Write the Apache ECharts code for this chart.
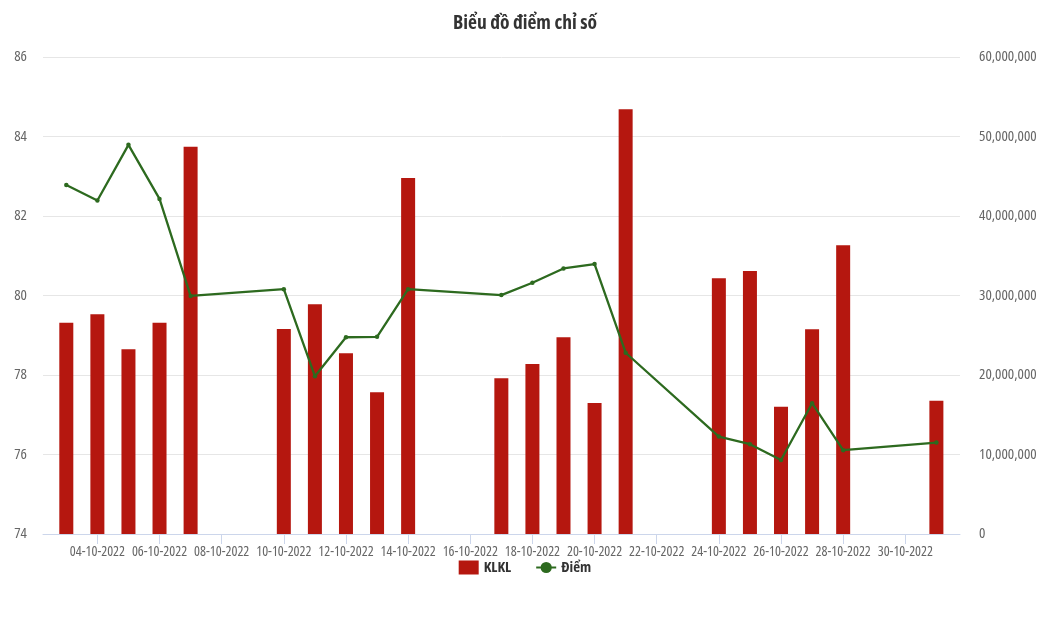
<!DOCTYPE html>
<html>
<head>
<meta charset="utf-8">
<script src="https://cdn.jsdelivr.net/npm/echarts@6/dist/echarts.min.js"></script>
<style>
html,body{margin:0;padding:0;background:#fff;}
#chart{width:1050px;height:630px;}
</style>
</head>
<body>
<div id="chart"></div>
<script>
const dates = ['03-10-2022','04-10-2022','05-10-2022','06-10-2022','07-10-2022',
  '10-10-2022','11-10-2022','12-10-2022','13-10-2022','14-10-2022',
  '17-10-2022','18-10-2022','19-10-2022','20-10-2022','21-10-2022',
  '24-10-2022','25-10-2022','26-10-2022','27-10-2022','28-10-2022','31-10-2022'];
const klkl = [26580000,27630000,23230000,26580000,48720000,
  25790000,28890000,22730000,17820000,44780000,
  19580000,21380000,24740000,16480000,53420000,
  32160000,33080000,16010000,25750000,36310000,16770000];
const diem = [82.78,82.39,83.79,82.43,79.99,
  80.16,77.97,78.95,78.96,80.16,
  80.01,80.32,80.68,80.79,78.56,
  76.45,76.26,75.86,77.29,76.11,76.30];
const tickLabels = ['04-10-2022','06-10-2022','08-10-2022','10-10-2022','12-10-2022','14-10-2022',
  '16-10-2022','18-10-2022','20-10-2022','22-10-2022','24-10-2022','26-10-2022','28-10-2022','30-10-2022'];

const DAY = 86400000;
function dayNum(s){ const p = s.split('-').map(Number); return Math.round(Date.UTC(p[2], p[1]-1, p[0]) / DAY); }
const labelMap = {};
tickLabels.forEach(s => { labelMap[dayNum(s)] = s; });
const tickVals = tickLabels.map(dayNum);
const FONT = "'Open Sans'";
const FST = 'condensed';

const chart = echarts.init(document.getElementById('chart'));
chart.setOption({
  animation: false,
  backgroundColor: '#fff',
  title: {
    text: 'Biểu đồ điểm chỉ số', left: 'center', top: 8,
    textStyle: {fontFamily: FONT, fontStyle: FST, fontSize: 19.5, fontWeight: 'bold', color: '#333'}
  },
  legend: {
    bottom: 50, left: 'center', itemGap: 24, itemWidth: 20, itemHeight: 14,
    textStyle: {fontFamily: FONT, fontStyle: FST, fontSize: 15, fontWeight: 'bold', color: '#333'},
    data: [{name: 'KLKL', icon: 'rect'}, 'Điểm']
  },
  grid: {left: 43, right: 90, top: 57, bottom: 96},
  xAxis: {
    type: 'value',
    min: dayNum(dates[0]) - 0.75,
    max: dayNum(dates[dates.length - 1]) + 0.76,
    axisLine: {lineStyle: {color: '#ccd6eb'}},
    axisTick: {show: true, length: 10, lineStyle: {color: '#ccd6eb'}, customValues: tickVals},
    splitLine: {show: false},
    axisLabel: {
      customValues: tickVals, margin: 11, color: '#666', fontFamily: FONT, fontStyle: FST, fontSize: 14,
      showMinLabel: true, showMaxLabel: true, hideOverlap: false,
      formatter: function (v) {
        const k = Math.round(v);
        if (labelMap[k]) return labelMap[k];
        const d = new Date(k * DAY);
        return String(d.getUTCDate()).padStart(2, '0') + '-' +
          String(d.getUTCMonth() + 1).padStart(2, '0') + '-' + d.getUTCFullYear();
      }
    }
  },
  yAxis: [
    {
      type: 'value', position: 'left', min: 74, max: 86, interval: 2,
      axisLine: {show: false}, axisTick: {show: false},
      splitLine: {lineStyle: {color: '#e6e6e6'}},
      axisLabel: {color: '#666', fontFamily: FONT, fontStyle: FST, fontSize: 15, margin: 16}
    },
    {
      type: 'value', position: 'right', min: 0, max: 60000000, interval: 10000000,
      axisLine: {show: false}, axisTick: {show: false},
      splitLine: {show: false},
      axisLabel: {
        color: '#666', fontFamily: FONT, fontStyle: FST, fontSize: 15, margin: 19,
        formatter: v => v.toLocaleString('en-US')
      }
    }
  ],
  series: [
    {
      name: 'KLKL', type: 'bar', yAxisIndex: 1, barWidth: 14,
      itemStyle: {color: '#b5170f'},
      data: dates.map((d, i) => [dayNum(d), klkl[i]])
    },
    {
      name: 'Điểm', type: 'line', yAxisIndex: 0,
      symbol: 'circle', symbolSize: 4.5, showSymbol: true,
      itemStyle: {color: '#2d6a1f'},
      lineStyle: {color: '#2d6a1f', width: 2.3},
      data: dates.map((d, i) => [dayNum(d), diem[i]])
    }
  ]
});
</script>
</body>
</html>
